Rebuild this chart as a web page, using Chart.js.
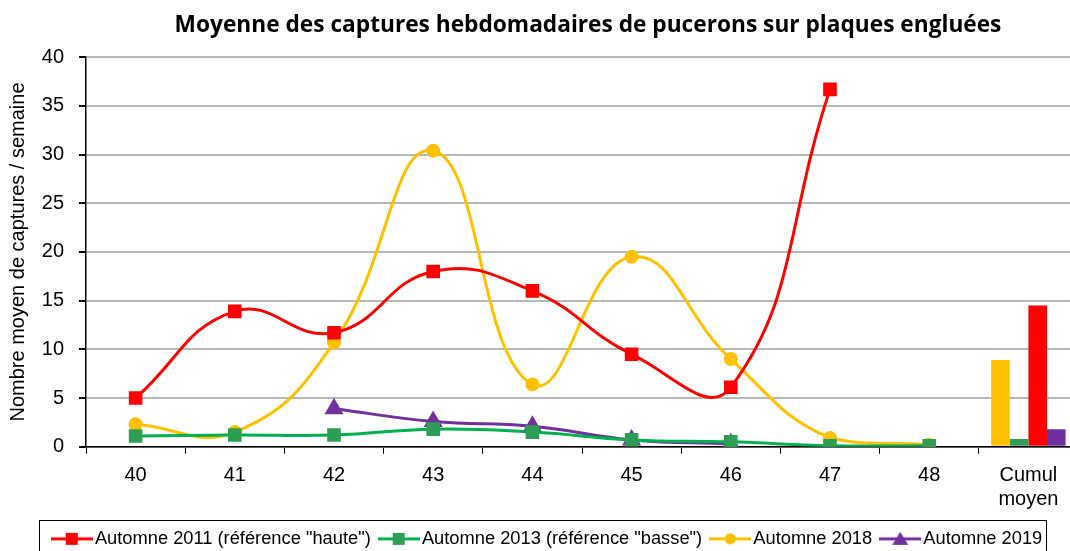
<!DOCTYPE html>
<html>
<head>
<meta charset="utf-8">
<script src="https://cdn.jsdelivr.net/npm/chart.js@4/dist/chart.umd.min.js"></script>
<style>
  html, body { margin: 0; padding: 0; background: #fff; overflow: hidden; }
  #wrap { width: 1078px; height: 551px; }
</style>
</head>
<body>
<div id="wrap"><canvas id="chart"></canvas></div>
<script>
// semaines + cumul
var categories = ["40", "41", "42", "43", "44", "45", "46", "47", "48", ["Cumul", "moyen"]];

// moyennes hebdomadaires (null = pas de relevé)
var automne2011 = [5.0, 13.9, 11.7, 18.0, 16.0, 9.5, 6.1, 36.7, null, null];
var automne2013 = [1.1, 1.2, 1.2, 1.8, 1.5, 0.7, 0.5, 0.1, 0.1, null];
var automne2018 = [2.3, 1.5, 10.7, 30.4, 6.4, 19.5, 9.0, 0.9, 0.2, null];
var automne2019 = [null, null, 3.9, 2.6, 2.1, 0.7, 0.3, null, null, null];

// cumul moyen (barres)
var cumul2018 = [null, null, null, null, null, null, null, null, null, 8.9];
var cumul2013 = [null, null, null, null, null, null, null, null, null, 0.8];
var cumul2011 = [null, null, null, null, null, null, null, null, null, 14.5];
var cumul2019 = [null, null, null, null, null, null, null, null, null, 1.8];

var yTicks = [0, 5, 10, 15, 20, 25, 30, 35, 40];

var colors = {
	red: '#FF0000',
	green: '#00B050',
	greenMark: '#2E9E55',
	yellow: '#FFC000',
	purple: '#7030A0'
};

// petit dessin ligne + marqueur pour la légende
function legendIcon(lineColor, markColor, shape) {
	var c = document.createElement('canvas');
	c.width = 42; c.height = 16;
	var g = c.getContext('2d');
	g.strokeStyle = lineColor;
	g.lineWidth = 3;
	g.beginPath(); g.moveTo(0, 8); g.lineTo(42, 8); g.stroke();
	g.fillStyle = markColor;
	if (shape == 'rect') {
		g.fillRect(15, 2, 12, 12);
	} else if (shape == 'circle') {
		g.beginPath(); g.arc(21, 8, 5.5, 0, Math.PI * 2); g.fill();
	} else {
		g.beginPath(); g.moveTo(21, 1); g.lineTo(29, 14); g.lineTo(13, 14); g.closePath(); g.fill();
	}
	return c;
}

// décale légende et titre comme sur l'original, puis cadre la légende
var legendBox = {
	id: 'legendBox',
	afterLayout: function(chart) {
		chart.legend.left += 8;
		chart.legend.right += 8;
		chart.titleBlock.left += 6;
		chart.titleBlock.right += 6;
	},
	afterDraw: function(chart) {
		var boxes = chart.legend.legendHitBoxes;
		if (!boxes || !boxes.length) return;
		var l = Infinity, r = -Infinity, t = Infinity;
		boxes.forEach(function(h) {
			l = Math.min(l, h.left); r = Math.max(r, h.left + h.width);
			t = Math.min(t, h.top);
		});
		var ctx = chart.ctx;
		ctx.save();
		ctx.strokeStyle = '#000';
		ctx.lineWidth = 1;
		ctx.strokeRect(Math.round(l - 19) + 0.5, Math.round(t - 10) + 0.5, Math.round(r - l + 22), 60);
		ctx.restore();
	}
};

function lineSet(label, data, color, markColor, shape, radius) {
	return {
		type: 'line',
		label: label,
		data: data,
		borderColor: color,
		backgroundColor: markColor,
		pointBackgroundColor: markColor,
		pointBorderColor: markColor,
		pointStyle: shape,
		pointRadius: radius,
		borderWidth: 3,
		tension: 0.45,
		fill: false,
		order: 0,
		legendIcon: legendIcon(color, markColor, shape)
	};
}

function barSet(data, color) {
	return {
		type: 'bar',
		label: 'cumul',
		data: data,
		backgroundColor: color,
		borderWidth: 0,
		order: 1,
		isCumul: true
	};
}

new Chart(document.getElementById('chart'), {
	type: 'bar',
	data: {
		labels: categories,
		datasets: [
			lineSet('Automne 2011 (référence "haute")', automne2011, colors.red, colors.red, 'rect', 7.5),
			lineSet('Automne 2013 (référence "basse")', automne2013, colors.green, colors.greenMark, 'rect', 7.5),
			lineSet('Automne 2018', automne2018, colors.yellow, colors.yellow, 'circle', 5.5),
			lineSet('Automne 2019', automne2019, colors.purple, colors.purple, 'triangle', 8),
			barSet(cumul2018, colors.yellow),
			barSet(cumul2013, colors.greenMark),
			barSet(cumul2011, colors.red),
			barSet(cumul2019, colors.purple)
		]
	},
	options: {
		responsive: true,
		maintainAspectRatio: false,
		animation: false,
		layout: { autoPadding: false, padding: { left: 6, right: 0, top: 0, bottom: -7 } },
		datasets: {
			bar: { categoryPercentage: 0.75, barPercentage: 1.0 }
		},
		plugins: {
			title: {
				display: true,
				fullSize: false,
				text: 'Moyenne des captures hebdomadaires de pucerons sur plaques engluées',
				color: '#000',
				font: { family: 'Open Sans', size: 22.7, weight: 'bold' },
				padding: { top: 12, bottom: 18 }
			},
			legend: {
				position: 'bottom',
				labels: {
					color: '#000',
					font: { family: 'Liberation Sans', size: 18.3 },
					usePointStyle: true,
					boxWidth: 28,
					pointStyleWidth: 28,
					padding: 14,
					filter: function(item, data) { return !data.datasets[item.datasetIndex].isCumul; },
					generateLabels: function(chart) {
						return chart.data.datasets.map(function(ds, i) {
							return {
								text: ds.label,
								datasetIndex: i,
								pointStyle: ds.legendIcon,
								fillStyle: ds.borderColor,
								strokeStyle: ds.borderColor,
								lineWidth: 0,
								fontColor: '#000',
								hidden: false
							};
						});
					}
				}
			},
			tooltip: { enabled: false }
		},
		scales: {
			x: {
				offset: true,
				afterFit: function(scale) {
					scale.paddingLeft = 0;
					scale.paddingRight = 0;
					scale.height = 69;
				},
				grid: {
					display: true,
					offset: true,
					drawOnChartArea: false,
					drawTicks: true,
					tickLength: 7,
					color: '#000'
				},
				border: { color: '#000', width: 1.5 },
				ticks: {
					color: '#000',
					font: { family: 'Liberation Sans', size: 20, lineHeight: 1.2 },
					padding: 10,
					maxRotation: 0,
					autoSkip: false
				}
			},
			y: {
				min: 0,
				max: 40,
				afterBuildTicks: function(axis) {
					axis.ticks = yTicks.map(function(v) { return { value: v }; });
				},
				afterFit: function(scale) {
					scale.width = 80;
				},
				grid: {
					color: '#b8b8b8',
					lineWidth: 2,
					drawTicks: true,
					tickLength: 7,
					tickColor: '#000'
				},
				border: { color: '#000', width: 1.5 },
				ticks: {
					color: '#000',
					font: { family: 'Liberation Sans', size: 20 },
					padding: 15
				},
				title: {
					display: true,
					text: 'Nombre moyen de captures / semaine',
					color: '#000',
					font: { family: 'Liberation Sans', size: 20 },
					padding: { top: 0, bottom: 12 }
				}
			}
		}
	},
	plugins: [legendBox]
});
</script>
</body>
</html>
